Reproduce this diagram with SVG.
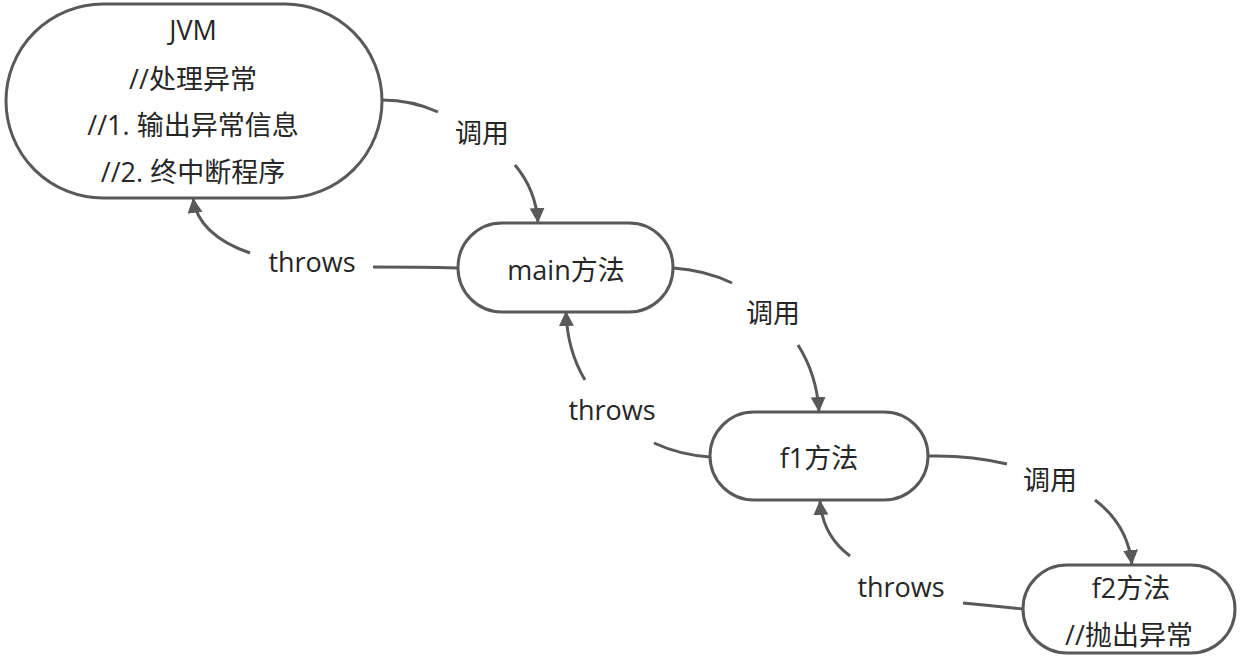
<svg xmlns="http://www.w3.org/2000/svg" width="1246" height="661" viewBox="0 0 1246 661">
<style>
.node{fill:#ffffff;stroke:#595959;stroke-width:3}
.edge{fill:none;stroke:#595959;stroke-width:3}
text{font-family:"Open Sans","Noto Sans CJK SC",sans-serif;font-size:27px;fill:#262626;text-anchor:middle}
</style>
<defs>
<marker id="arrow" markerUnits="userSpaceOnUse" markerWidth="17" markerHeight="17" refX="15" refY="7.5" orient="auto">
<path d="M0,0 L15,7.5 L0,15 Z" fill="#595959"/>
</marker>
</defs>
<rect width="1246" height="661" fill="#ffffff"/>
<g id="connectors">
<path class="edge" d="M382,100 Q412,100 438,112"/>
<path class="edge" d="M515,165 Q536,190 538,223" marker-end="url(#arrow)"/>
<path class="edge" d="M458,268 Q420,267 373,267"/>
<path class="edge" d="M250,253 Q198,235 193,198" marker-end="url(#arrow)"/>
<path class="edge" d="M673,268 Q705,270 732,283"/>
<path class="edge" d="M798,345 Q817,375 819,412" marker-end="url(#arrow)"/>
<path class="edge" d="M710,457 Q680,455 654,443"/>
<path class="edge" d="M585,380 Q567,350 566,311" marker-end="url(#arrow)"/>
<path class="edge" d="M928,456 Q970,455 1007,464"/>
<path class="edge" d="M1095,500 Q1128,525 1132,565" marker-end="url(#arrow)"/>
<path class="edge" d="M1023,609 Q995,606 963,603"/>
<path class="edge" d="M850,556 Q822,535 820,500" marker-end="url(#arrow)"/>
<text x="482" y="143">调用</text>
<text x="312" y="272">throws</text>
<text x="773" y="323">调用</text>
<text x="612" y="420">throws</text>
<text x="1050" y="490">调用</text>
<text x="901" y="597">throws</text>
</g>
<g id="jvm">
<rect class="node" x="6" y="4" width="376" height="194" rx="97" ry="97"/>
<text x="193" y="40">JVM</text>
<text x="193" y="89">//处理异常</text>
<text x="193" y="135">//1. 输出异常信息</text>
<text x="193" y="182">//2. 终中断程序</text>
</g>
<g id="main">
<rect class="node" x="458" y="223" width="215" height="89" rx="44" ry="44"/>
<text x="566" y="280">main方法</text>
</g>
<g id="f1">
<rect class="node" x="710" y="412" width="218" height="88" rx="44" ry="44"/>
<text x="819" y="468">f1方法</text>
</g>
<g id="f2">
<rect class="node" x="1023" y="565" width="212" height="88" rx="44" ry="44"/>
<text x="1131" y="598">f2方法</text>
<text x="1129" y="645">//抛出异常</text>
</g>
</svg>
